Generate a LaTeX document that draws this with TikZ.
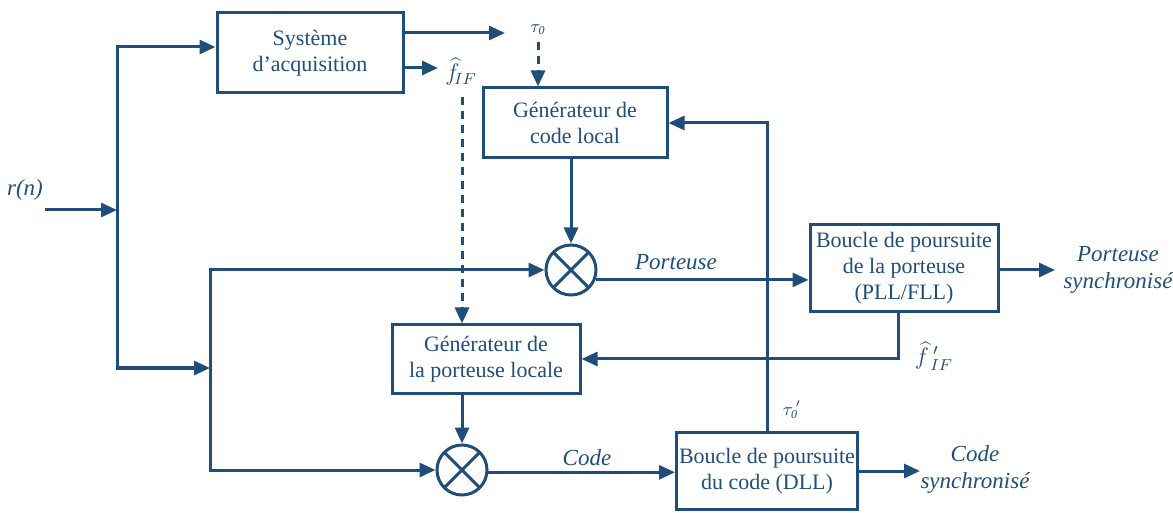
\documentclass[tikz,border=0pt]{standalone}
\usepackage{fontspec}
\setmainfont{Liberation Serif}
\usetikzlibrary{arrows.meta}
\definecolor{bleu}{RGB}{32,78,122}

\begin{document}
\begin{tikzpicture}[x=0.5pt,y=-0.5pt,
    bloc/.style={draw=bleu, line width=1.5pt, align=center, text=bleu, inner sep=0pt, font=\fontsize{11}{13}\selectfont},
    mixer/.style={draw=bleu, line width=1.5pt, circle, minimum size=25pt, inner sep=0pt,
        path picture={\draw[bleu, line width=1.5pt] (path picture bounding box.north west) -- (path picture bounding box.south east)
            (path picture bounding box.north east) -- (path picture bounding box.south west);}},
    fil/.style={bleu, line width=1.5pt, -{Triangle[length=8pt,width=7pt]}},
    tirets/.style={dash pattern=on 4pt off 3pt},
    lab/.style={text=bleu, align=center, font=\fontsize{11.5}{13.5}\selectfont\itshape}]

    \useasboundingbox (0,0) rectangle (1173,513);

    % Blocs
    \node[bloc, minimum width=93pt, minimum height=40pt] (sys) at (310,53) {Système\\d’acquisition};
    \node[bloc, minimum width=92pt, minimum height=35pt] (cg) at (575,123) {Générateur de\\code local};
    \node[bloc, minimum width=94pt, minimum height=43.5pt] (pll) at (904,268) {Boucle de poursuite\\de la porteuse\\(PLL/FLL)};
    \node[bloc, minimum width=94pt, minimum height=34pt] (pg) at (486,359) {Générateur de\\la porteuse locale};
    \node[bloc, minimum width=90.5pt, minimum height=38.5pt] (dll) at (767,471) {Boucle de poursuite\\du code (DLL)};

    \node[mixer] (m1) at (571,270) {};
    \node[mixer] (m2) at (462,470) {};

    % Points de branchement
    \coordinate (in) at (45,210);
    \coordinate (b1) at (117,210);
    \coordinate (b1h) at (117,47);
    \coordinate (b1b) at (117,368);
    \coordinate (b2) at (210,368);
    \coordinate (b2h) at (210,270);
    \coordinate (b2b) at (210,470);
    \coordinate (s1) at (505,33);
    \coordinate (s2) at (438,68);
    \coordinate (fd) at (462,97);
    \coordinate (po) at (1055,270);
    \coordinate (co) at (920,471);

    % Liaisons
    \draw[fil] (in) -- (b1);
    \draw[fil] (b1b) -- (b1h) -- (sys.west |- b1h);
    \draw[fil] (b1h) -- (b1b) -- (b2);
    \draw[fil] (b2b) -- (b2h) -- (m1.west);
    \draw[fil] (b2h) -- (b2b) -- (m2.west);

    \draw[fil] (sys.east |- s1) -- (s1);
    \draw[fil] (sys.east |- s2) -- (s2);

    \node[lab, font=\small] (t0) at (538,30) {$\tau_{\mathit{0}}$};
    \node[lab] (fif) at (461,72) {$\widehat{f}_{\!IF}$};

    \draw[fil, tirets] (t0.south) -- (t0.south |- cg.north);
    \draw[fil, tirets] (fd) -- (fd |- pg.north);

    \draw[fil] (m1.north |- cg.south) -- (m1.north);
    \draw[fil] (m2.north |- pg.south) -- (m2.north);
    \draw[fil] (m1.-22) -- (pll.west |- m1.-22);
    \draw[fil] (m2.-5) -- (dll.west |- m2.-5);
    \draw[fil] ([xshift=-3pt]pll.south) |- (pg.east);
    \draw[fil] (dll.north) |- (cg.east);
    \draw[fil] (pll.east |- po) -- (po);
    \draw[fil] (dll.east) -- (co);

    % Etiquettes
    \node[lab] (rn) at (25,190) {r(n)};
    \node[lab] (port) at (676,262) {Porteuse};
    \node[lab] (code) at (587,458) {Code};
    \node[lab] (psync) at (1118,270) {Porteuse\\synchronisé};
    \node[lab] (csync) at (975,470) {Code\\synchronisé};
    \node[lab, font=\small] (t0p) at (792,410) {$\tau_{\mathit{0}}^{\,\prime}$};
    \node[lab] (fifp) at (934,356) {$\widehat{f}\,'_{\!IF}$};
\end{tikzpicture}
\end{document}
